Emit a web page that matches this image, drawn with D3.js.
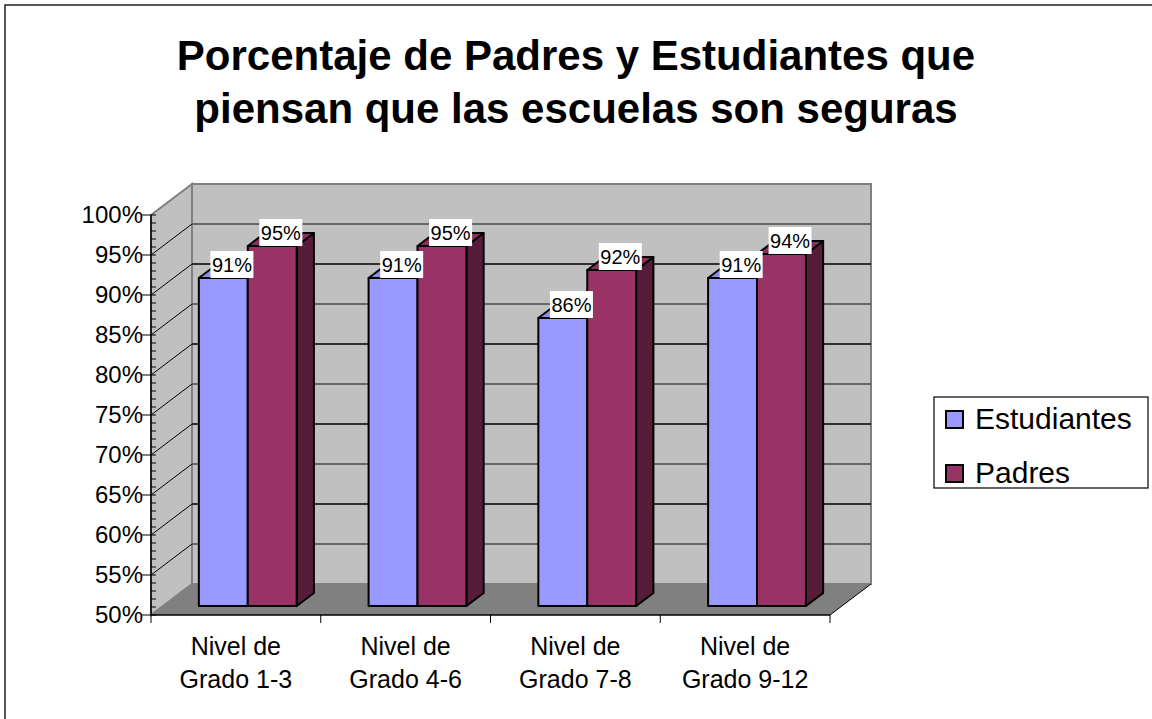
<!DOCTYPE html>
<html>
<head>
<meta charset="utf-8">
<script src="https://cdn.jsdelivr.net/npm/d3@7"></script>
<style>
  body { margin: 0; background: #fff; }
  svg text { font-family: "Liberation Sans", Arial, sans-serif; fill: #000; }
</style>
</head>
<body>
<svg id="chart" width="1152" height="719"></svg>
<script>
var categories = ["Nivel de Grado 1-3", "Nivel de Grado 4-6", "Nivel de Grado 7-8", "Nivel de Grado 9-12"];
var catLines = [["Nivel de", "Grado 1-3"], ["Nivel de", "Grado 4-6"], ["Nivel de", "Grado 7-8"], ["Nivel de", "Grado 9-12"]];
var series = ["Estudiantes", "Padres"];
var estudiantes = [0.91, 0.91, 0.86, 0.91];
var padres = [0.95, 0.95, 0.92, 0.94];
var yTicks = [0.5, 0.55, 0.6, 0.65, 0.7, 0.75, 0.8, 0.85, 0.9, 0.95, 1];
var titleLines = ["Porcentaje de Padres y Estudiantes que", "piensan que las escuelas son seguras"];

var colors = { "Estudiantes": "#9999ff", "Padres": "#993366" };

// depth of the 3d box
var DX = 41, DY = -31;
var z0 = 0.29, z1 = 0.71;

var svg = d3.select("#chart");

// outer frame
svg.append("rect")
    .attr("x", 5).attr("y", 5)
    .attr("width", 1170).attr("height", 740)
    .attr("fill", "none")
    .attr("stroke", "#222")
    .attr("stroke-width", 1.5);

// title
svg.append("g").selectAll("text")
    .data(titleLines)
    .enter()
    .append("text")
    .attr("x", 576)
    .attr("y", function(d, i){ return 70 + i * 53; })
    .attr("text-anchor", "middle")
    .style("font-size", "42px")
    .style("font-weight", "bold")
    .text(function(d){ return d; });

var x = d3.scaleBand().domain(categories).range([151, 830]);
var xs = d3.scaleBand().domain(series).range([0, x.bandwidth()]).paddingInner(0).paddingOuter(0.735);
var y = d3.scaleLinear().domain([0.5, 1]).range([615, 215]);

function P(px, py, z){ return [px + z * DX, py + z * DY]; }
function poly(pts){ return pts.map(function(p){ return p.join(","); }).join(" "); }

var x0 = x.range()[0], x1 = x.range()[1];
var yb = y(0.5), yt = y(1);

// side wall
svg.append("polygon")
    .attr("points", poly([P(x0, yt, 0), P(x0, yt, 1), P(x0, yb, 1), P(x0, yb, 0)]))
    .attr("fill", "#c0c0c0")
    .attr("stroke", "#808080")
    .attr("stroke-width", 2);

// back wall
svg.append("polygon")
    .attr("points", poly([P(x0, yt, 1), P(x1, yt, 1), P(x1, yb, 1), P(x0, yb, 1)]))
    .attr("fill", "#c0c0c0")
    .attr("stroke", "#808080")
    .attr("stroke-width", 2);

// floor
svg.append("polygon")
    .attr("points", poly([P(x0, yb, 0), P(x1, yb, 0), P(x1, yb, 1), P(x0, yb, 1)]))
    .attr("fill", "#808080");

svg.append("line")
    .attr("x1", P(x1, yb, 0)[0]).attr("y1", P(x1, yb, 0)[1])
    .attr("x2", P(x1, yb, 1)[0]).attr("y2", P(x1, yb, 1)[1])
    .attr("stroke", "#000");

// gridlines on back wall + diagonals on side wall
var inner = yTicks.filter(function(t){ return t > 0.5 && t < 1; });
var grid = svg.append("g");
grid.selectAll("line.back")
    .data(inner)
    .enter()
    .append("line")
    .attr("class", "back")
    .attr("x1", x0 + DX).attr("x2", x1 + DX)
    .attr("y1", function(d){ return y(d) + DY; })
    .attr("y2", function(d){ return y(d) + DY; })
    .attr("stroke", function(d, i){ return i % 2 == 0 ? "#4a4a4a" : "#000"; })
    .attr("stroke-width", 1.3);
grid.selectAll("line.side")
    .data(inner)
    .enter()
    .append("line")
    .attr("class", "side")
    .attr("x1", x0).attr("x2", x0 + DX)
    .attr("y1", function(d){ return y(d); })
    .attr("y2", function(d){ return y(d) + DY; })
    .attr("stroke", "#000");

// y axis
var yAxisG = svg.append("g");
yAxisG.append("line")
    .attr("x1", x0).attr("x2", x0)
    .attr("y1", yt).attr("y2", yb)
    .attr("stroke", "#000").attr("stroke-width", 1.5);
yAxisG.selectAll("line.minor")
    .data(d3.range(50, 101).map(function(d){ return d / 100; }))
    .enter()
    .append("line")
    .attr("class", "minor")
    .attr("x1", x0).attr("x2", x0 + 5)
    .attr("y1", function(d){ return y(d); })
    .attr("y2", function(d){ return y(d); })
    .attr("stroke", "#000");
yAxisG.selectAll("line.major")
    .data(yTicks)
    .enter()
    .append("line")
    .attr("class", "major")
    .attr("x1", x0 - 9).attr("x2", x0)
    .attr("y1", function(d){ return y(d); })
    .attr("y2", function(d){ return y(d); })
    .attr("stroke", "#000");
yAxisG.selectAll("text")
    .data(yTicks)
    .enter()
    .append("text")
    .attr("x", x0 - 8)
    .attr("y", function(d){ return y(d) + 8; })
    .attr("text-anchor", "end")
    .style("font-size", "24px")
    .text(d3.format(".0%"));

// x axis
var xAxisG = svg.append("g");
xAxisG.append("line")
    .attr("x1", x0).attr("x2", x1)
    .attr("y1", yb).attr("y2", yb)
    .attr("stroke", "#000").attr("stroke-width", 1.5);
xAxisG.selectAll("line.tick")
    .data(categories.concat(["end"]))
    .enter()
    .append("line")
    .attr("class", "tick")
    .attr("x1", function(d){ return d == "end" ? x1 : x(d); })
    .attr("x2", function(d){ return d == "end" ? x1 : x(d); })
    .attr("y1", yb).attr("y2", yb + 8)
    .attr("stroke", "#000");
xAxisG.selectAll("text")
    .data(categories)
    .enter()
    .append("text")
    .attr("text-anchor", "middle")
    .style("font-size", "25px")
    .each(function(d, i){
        var t = d3.select(this);
        catLines[i].forEach(function(line, j){
            t.append("tspan")
                .attr("x", x(d) + x.bandwidth() / 2)
                .attr("y", 655 + j * 33)
                .text(line);
        });
    });

// bars
var bars = [];
categories.forEach(function(c, i){
    bars.push({ cat: c, s: "Estudiantes", v: estudiantes[i] });
    bars.push({ cat: c, s: "Padres", v: padres[i] });
});

var barG = svg.append("g");
bars.forEach(function(b){
    var bx0 = x(b.cat) + xs(b.s);
    var bx1 = bx0 + xs.bandwidth();
    var vt = y(b.v);
    var col = colors[b.s];
    var g = barG.append("g");

    // side face
    g.append("polygon")
        .attr("points", poly([P(bx1, vt, z0), P(bx1, vt, z1), P(bx1, yb, z1), P(bx1, yb, z0)]))
        .attr("fill", d3.color(col).darker(1.6))
        .attr("stroke", "#000").attr("stroke-width", 2).attr("stroke-linejoin", "round");
    // top face
    g.append("polygon")
        .attr("points", poly([P(bx0, vt, z0), P(bx1, vt, z0), P(bx1, vt, z1), P(bx0, vt, z1)]))
        .attr("fill", d3.color(col).darker(0.25))
        .attr("stroke", "#000").attr("stroke-width", 2).attr("stroke-linejoin", "round");
    // front face
    g.append("polygon")
        .attr("points", poly([P(bx0, vt, z0), P(bx1, vt, z0), P(bx1, yb, z0), P(bx0, yb, z0)]))
        .attr("fill", col)
        .attr("stroke", "#000").attr("stroke-width", 2).attr("stroke-linejoin", "round");
});

// data labels
var labelG = svg.append("g");
bars.forEach(function(b){
    var cx = x(b.cat) + xs(b.s) + xs.bandwidth() / 2 + 0.5 * DX;
    var top = y(b.v) + z0 * DY;
    labelG.append("rect")
        .attr("x", cx - 21.5).attr("y", top - 27)
        .attr("width", 43).attr("height", 27)
        .attr("fill", "#fff");
    labelG.append("text")
        .attr("x", cx)
        .attr("y", top - 6)
        .attr("text-anchor", "middle")
        .style("font-size", "20px")
        .text(d3.format(".0%")(b.v));
});

// legend
var legend = svg.append("g");
legend.append("rect")
    .attr("x", 934).attr("y", 397)
    .attr("width", 214).attr("height", 91)
    .attr("fill", "#fff")
    .attr("stroke", "#000").attr("stroke-width", 1.2);
var li = legend.selectAll("g.item")
    .data(series)
    .enter()
    .append("g")
    .attr("class", "item")
    .attr("transform", function(d, i){ return "translate(946," + (429 + i * 54) + ")"; });
li.append("rect")
    .attr("x", 0).attr("y", -18)
    .attr("width", 17).attr("height", 17)
    .attr("fill", function(d){ return colors[d]; })
    .attr("stroke", "#000").attr("stroke-width", 2);
li.append("text")
    .attr("x", 29).attr("y", 0)
    .style("font-size", "30px")
    .text(function(d){ return d; });
</script>
</body>
</html>
